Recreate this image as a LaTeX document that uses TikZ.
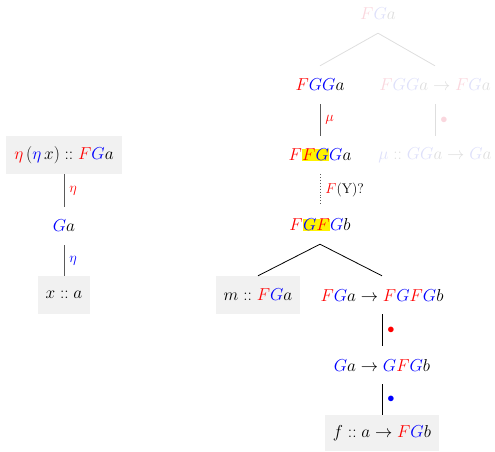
\documentclass[tikz,border=0pt]{standalone}
\usepackage{xcolor}
\definecolor{boxgray}{RGB}{241,241,241}
\definecolor{fred}{RGB}{250,215,222}
\definecolor{fblue}{RGB}{222,224,250}
\definecolor{fgray}{RGB}{222,222,222}
\definecolor{edgegray}{RGB}{90,90,90}
\newcommand{\rF}{\textcolor{red}{F}}
\newcommand{\bG}{\textcolor{blue}{G}}
\newcommand{\fF}{\textcolor{fred}{F}}
\newcommand{\fG}{\textcolor{fblue}{G}}
\newcommand{\fA}{\textcolor{fgray}{a}}
\newcommand{\hlb}[1]{{\setlength{\fboxsep}{0.3pt}\colorbox{yellow}{$#1$}}}
\tikzset{
  tnode/.style={inner sep=0pt, inner xsep=8pt, minimum height=38, font=\fontsize{17}{20}\selectfont},
  bx/.style={tnode, fill=boxgray},
  lab/.style={font=\fontsize{14}{16}\selectfont, right=4pt, inner sep=1pt},
  edg/.style={draw=edgegray, line width=0.9pt},
  blk/.style={draw=black, line width=0.8pt},
  fed/.style={draw=fgray, line width=0.8pt},
}
\begin{document}
\begin{tikzpicture}[x=1pt,y=-1pt]
\useasboundingbox (0,0) rectangle (495,451);
% left tree
\node[bx] (l1) at (64,155) {$\textcolor{red}{\eta}\,(\textcolor{blue}{\eta}\,x) \mathrel{::} \rF\bG a$};
\node[tnode] (l2) at (64,226) {$\bG a$};
\node[bx] (l3) at (64,295) {$x \mathrel{::} a$};
\draw[edg] (l1.south) -- (l2.north) node[midway,lab] {$\textcolor{red}{\eta}$};
\draw[edg] (l2.south) -- (l3.north) node[midway,lab] {$\textcolor{blue}{\eta}$};
% right tree, faded part
\node[tnode] (r0) at (378,14) {$\fF\fG\fA$};
\node[tnode] (r1) at (320,85) {$\rF\bG\bG a$};
\node[tnode] (r1b) at (435,85) {$\fF\fG\fG\fA \mathrel{\textcolor{fgray}{\to}} \fF\fG\fA$};
\node[tnode] (r2) at (320,155) {$\rF\hlb{\rF\bG}\bG a$};
\node[tnode] (r2b) at (435,155) {$\textcolor{fblue}{\mu} \mathrel{\textcolor{fgray}{::}} \fG\fG\fA \mathrel{\textcolor{fgray}{\to}} \fG\fA$};
\draw[fed] (r0.south) -- (r1.north);
\draw[fed] (r0.south) -- (r1b.north);
\draw[edg] (r1.south) -- (r2.north) node[midway,lab] {$\textcolor{red}{\mu}$};
\draw[fed] (r1b.south) -- (r2b.north) node[midway,lab] {$\textcolor{fred}{\bullet}$};
% lower part
\node[tnode] (r3) at (320,225) {$\rF\hlb{\bG\rF}\bG b$};
\draw[draw=edgegray, line width=0.9pt, dotted] (r2.south) -- (r3.north) node[midway,lab] {$\rF$(Y)?};
\node[bx] (m) at (258,295) {$m \mathrel{::} \rF\bG a$};
\node[tnode] (s1) at (382,295) {$\rF\bG a \to \rF\bG\rF\bG b$};
\node[tnode] (s2) at (382,365) {$\bG a \to \bG\rF\bG b$};
\node[bx, minimum height=36] (s3) at (382,433) {$f \mathrel{::} a \to \rF\bG b$};
\draw[blk] (r3.south) -- (m.north);
\draw[blk] (r3.south) -- (s1.north);
\draw[blk] (s1.south) -- (s2.north) node[midway,lab] {$\textcolor{red}{\bullet}$};
\draw[blk] (s2.south) -- (s3.north) node[midway,lab] {$\textcolor{blue}{\bullet}$};
\end{tikzpicture}
\end{document}
